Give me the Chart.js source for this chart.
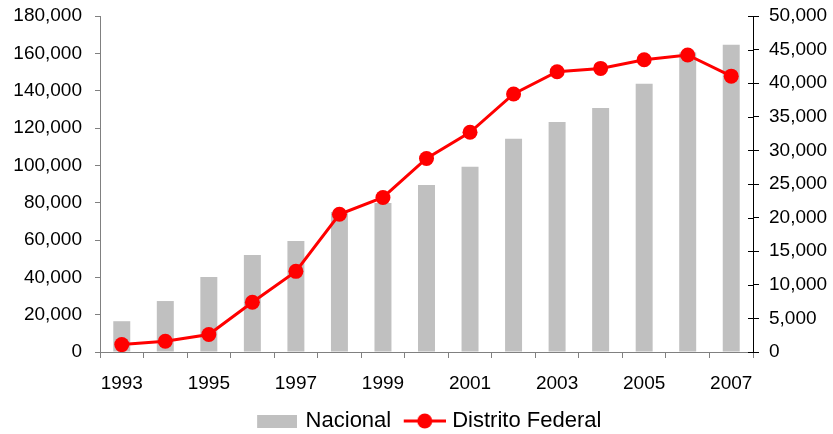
<!DOCTYPE html>
<html>
<head>
<meta charset="utf-8">
<script src="https://cdn.jsdelivr.net/npm/chart.js@4.4.1/dist/chart.umd.min.js"></script>
<style>
html,body{margin:0;padding:0;background:#fff;}
#wrap{width:833px;height:434px;}
</style>
</head>
<body>
<div id="wrap"><canvas id="c" width="833" height="434"></canvas></div>
<script>
const years = ['1993','1994','1995','1996','1997','1998','1999','2000','2001','2002','2003','2004','2005','2006','2007'];
const nacional = [16500, 27300, 40200, 52000, 59500, 75000, 79800, 89400, 99300, 114300, 123200, 130700, 143700, 160500, 164600];
const distritoFederal = [1100, 1600, 2600, 7400, 12000, 20500, 23000, 28800, 32700, 38400, 41700, 42200, 43500, 44200, 41050];
const leftTicks = {min: 0, max: 180000, step: 20000};
const rightTicks = {min: 0, max: 50000, step: 5000};

const FAMILY = '"Liberation Sans", Arial, sans-serif';
const LEGENDFONT = {family: FAMILY, size: 22};
const XFONT = {family: FAMILY, size: 19, lineHeight: 0.6};
const YFONT = {family: FAMILY, size: 19, lineHeight: 0.3};

function makeBarIcon(){
  const c = document.createElement('canvas');
  c.width = 43; c.height = 13;
  const x = c.getContext('2d');
  x.fillStyle = '#C0C0C0';
  x.fillRect(3,0,40,13);
  return c;
}
function makeLineIcon(){
  const c = document.createElement('canvas');
  c.width = 47; c.height = 18;
  const x = c.getContext('2d');
  x.strokeStyle = '#FF0000';
  x.lineWidth = 3;
  x.beginPath(); x.moveTo(5,9); x.lineTo(47,9); x.stroke();
  x.fillStyle = '#FF0000';
  x.beginPath(); x.arc(26,9,7.5,0,Math.PI*2); x.fill();
  return c;
}
const icons = [makeBarIcon(), makeLineIcon()];

const crossTicks = {
  id: 'crossTicks',
  afterDraw(chart){
    const s = chart.scales.y2;
    const ctx = chart.ctx;
    ctx.save();
    ctx.strokeStyle = '#000';
    ctx.lineWidth = 1;
    s.ticks.forEach(t => {
      const y = Math.round(s.getPixelForValue(t.value)) + 0.5;
      ctx.beginPath();
      ctx.moveTo(s.left - 5, y);
      ctx.lineTo(s.left, y);
      ctx.stroke();
    });
    ctx.restore();
  }
};

const legendShift = {
  id: 'legendShift',
  afterLayout(chart){
    if (chart.legend) { chart.legend.left += 8; chart.legend.right += 8; }
  }
};

new Chart(document.getElementById('c'), {
  data: {
    labels: years,
    datasets: [
      {
        type: 'bar',
        label: 'Nacional',
        data: nacional,
        backgroundColor: '#C0C0C0',
        borderWidth: 0,
        yAxisID: 'y',
        categoryPercentage: 1,
        barPercentage: 0.39,
        order: 1
      },
      {
        type: 'line',
        label: 'Distrito Federal',
        data: distritoFederal,
        borderColor: '#FF0000',
        backgroundColor: '#FF0000',
        borderWidth: 3,
        pointRadius: 7.5,
        pointHoverRadius: 7.5,
        pointBackgroundColor: '#FF0000',
        pointBorderWidth: 0,
        fill: false,
        tension: 0,
        yAxisID: 'y2',
        order: 0
      }
    ]
  },
  options: {
    responsive: false,
    animation: false,
    locale: 'en-US',
    layout: {padding: {left: 5, right: -4, top: 16, bottom: -8}},
    plugins: {
      tooltip: {enabled: false},
      legend: {
        position: 'bottom',
        labels: {
          font: LEGENDFONT,
          color: '#000',
          usePointStyle: true,
          pointStyleWidth: 38,
          padding: 12,
          sort: (a, b) => a.datasetIndex - b.datasetIndex,
          generateLabels(chart){
            const items = Chart.defaults.plugins.legend.labels.generateLabels(chart);
            items.forEach(it => { it.pointStyle = icons[it.datasetIndex]; });
            return items;
          }
        }
      }
    },
    scales: {
      x: {
        type: 'category',
        offset: true,
        afterFit: s => { s.height = 46; },
        grid: {offset: true, drawOnChartArea: false, drawTicks: true, tickLength: 6, color: '#808080'},
        border: {color: '#808080', width: 1},
        ticks: {
          font: XFONT,
          color: '#000',
          autoSkip: false,
          maxRotation: 0,
          padding: 20,
          callback: function(v, i){ return i % 2 === 0 ? this.getLabelForValue(v) : ''; }
        }
      },
      y: {
        position: 'left',
        min: leftTicks.min,
        max: leftTicks.max,
        afterFit: s => { s.width = 95; },
        grid: {drawOnChartArea: false, tickLength: 5, color: '#808080'},
        border: {color: '#808080', width: 1},
        ticks: {stepSize: leftTicks.step, font: YFONT, color: '#000', padding: 13}
      },
      y2: {
        position: 'right',
        min: rightTicks.min,
        max: rightTicks.max,
        afterFit: s => { s.width = 84; },
        grid: {drawOnChartArea: false, tickLength: 6, color: '#000'},
        border: {color: '#000', width: 1},
        ticks: {stepSize: rightTicks.step, font: YFONT, color: '#000', padding: 10}
      }
    }
  },
  plugins: [crossTicks, legendShift]
});
</script>
</body>
</html>
